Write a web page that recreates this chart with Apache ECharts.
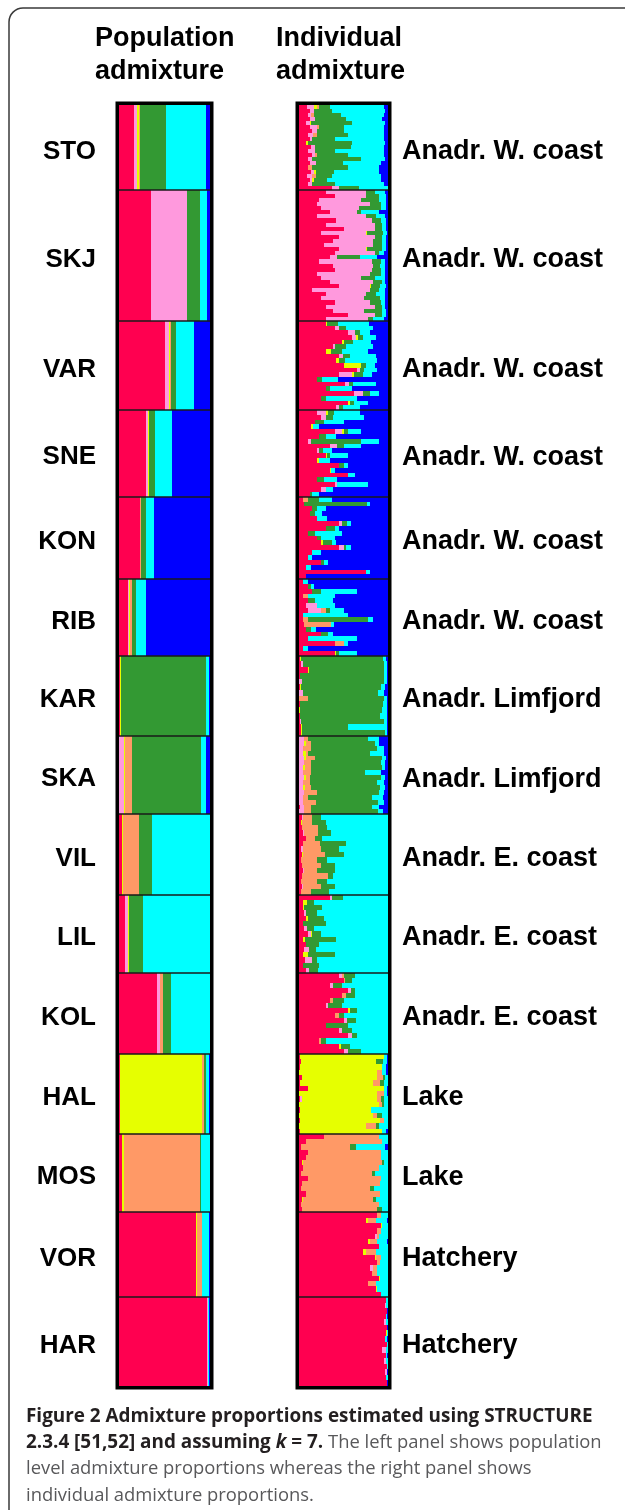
<!DOCTYPE html>
<html><head><meta charset="utf-8">
<script src="https://cdn.jsdelivr.net/npm/echarts@6/dist/echarts.min.js"></script>
<style>html,body{margin:0;padding:0;background:#fff}#c{width:625px;height:1510px}</style>
</head><body><div id="c"></div><script>
// ---- data ----
const clusterKeys = ['r', 'p', 'y', 'o', 'g', 'c', 'b'];
const clusterColors = ['#FF0050', '#FF99DD', '#E6FF00', '#FF9966', '#339933', '#00FFFF', '#0000FF'];
const populations = ['STO', 'SKJ', 'VAR', 'SNE', 'KON', 'RIB', 'KAR', 'SKA', 'VIL', 'LIL', 'KOL', 'HAL', 'MOS', 'VOR', 'HAR'];
const regions = ['Anadr. W. coast', 'Anadr. W. coast', 'Anadr. W. coast', 'Anadr. W. coast', 'Anadr. W. coast', 'Anadr. W. coast',
  'Anadr. Limfjord', 'Anadr. Limfjord', 'Anadr. E. coast', 'Anadr. E. coast', 'Anadr. E. coast', 'Lake', 'Lake', 'Hatchery', 'Hatchery'];
const sampleSizes = [40, 62, 42, 41, 39, 36, 38, 37, 38, 37, 38, 38, 37, 40, 42];
// population-level proportions (%), order: red, pink, yellow, orange, green, cyan, blue
const popQ = [
  [16.3, 4.0, 1.5, 1.5, 27.8, 44.1, 4.8],
  [35.2, 40.0, 0, 0, 13.3, 7.8, 3.7],
  [50.7, 4.4, 1.1, 0.5, 6.3, 19.3, 17.7],
  [29.6, 1.9, 1.5, 0, 6.7, 18.9, 41.4],
  [23.0, 0, 0.5, 0.6, 5.6, 8.9, 61.4],
  [9.6, 1.5, 1.1, 2.6, 4.4, 10.0, 70.8],
  [1.1, 0, 0.7, 0, 93.4, 4.1, 0.7],
  [0.5, 5.2, 0.7, 8.2, 75.6, 5.6, 4.2],
  [3.7, 0, 1.0, 17.8, 13.3, 64.2, 0],
  [6.7, 3.0, 1.5, 0, 15.2, 73.6, 0],
  [41.9, 3.3, 0, 3.3, 8.9, 42.6, 0],
  [1.1, 0, 89.6, 2.6, 1.9, 4.1, 0.7],
  [3.7, 0, 1.5, 83.7, 0.7, 10.4, 0],
  [84.1, 0, 1.5, 5.2, 0, 8.5, 0.7],
  [97.0, 0.7, 0, 0, 0, 1.1, 1.2]
];
// individual-level proportions (%), one string per individual group
const indSTO = ['r9 y3 o3 p8 g12 c60 b5', 'r12 p5 g20 c60 b3', 'r10 p3 o4 g30 c48 b5', 'r12 p6 g35 c40 b7', 'r8 p4 y2 g45 c38 b3',
  'r12 p8 o3 g28 c45 b4', 'r15 p5 g30 c45 b5', 'r10 p6 o4 g35 c40 b5', 'r12 p3 g25 c55 b5', 'r8 y2 g50 c37 b3', 'r13 p5 g40 c37 b5',
  'r10 p8 g22 c55 b5', 'r15 p3 o2 g35 c40 b5', 'r10 p5 g55 c27 b3', 'r12 p7 g30 c43 b8', 'r10 o5 g40 c35 b10', 'r13 p4 y2 g20 c51 b10',
  'r9 p6 o4 g18 c55 b8', 'r12 p3 y2 g15 c60 b8', 'r10 p5 g25 c55 b5', 'r37 p8 g22 c33'];
const indSKJ = ['r30 p45 g10 c12 b3', 'r40 p35 g15 c8 b2', 'r22 p48 g20 c8 b2', 'r20 p60 g12 c6 b2', 'r25 p42 g25 c6 b2', 'r35 p30 g5 c20 b10',
  'r20 p55 g12 c10 b3', 'r42 p40 g10 c6 b2', 'r30 p55 g8 c5 b2', 'r50 p35 g8 c5 b2', 'r25 p50 y1 g18 c5 b1', 'r45 p40 g8 c5 b2',
  'r38 p45 g10 c5 b2', 'r28 p55 g10 c5 b2', 'r45 p30 y1 g17 c5 b2', 'r40 p45 g5 c6 b4', 'r35 p8 g25 c20 b12', 'r22 p60 g10 c5 b3',
  'r38 p45 g8 c6 b3', 'r40 p42 g10 c5 b3', 'r20 p60 g12 c5 b3', 'r25 p45 g15 c12 b3', 'r35 p48 g10 c4 b3', 'r45 p35 y1 g10 c7 b2',
  'r15 p65 g10 c7 b3', 'r30 p45 g12 c10 b3', 'r25 p48 g18 c6 b3', 'r40 p40 g12 c5 b3', 'r30 p55 g8 c4 b3', 'r38 p35 g20 c5 b2',
  'r55 p30 g8 c5 b2', 'r30 p48 g5 c12 b5'];
const indVAR = ['r30 y2 g12 c35 b21', 'r40 p5 g8 c30 b17', 'r55 p8 g5 c12 b20', 'r60 p4 y2 g6 c15 b13', 'r48 y3 g10 c20 b19',
  'r38 p3 g12 c30 b17', 'r30 y6 g12 c30 b22', 'r45 p4 g8 c30 b13', 'r42 y3 g7 c36 b12', 'r50 y20 g5 c10 b15', 'r65 p3 g5 c15 b12',
  'r45 p15 y2 g10 c10 b18', 'r20 g6 c18 b56', 'r52 p4 g5 c25 b14', 'r30 g5 c25 b40', 'r62 p10 g8 c10 b10', 'r25 g5 c35 b35',
  'r55 y2 g5 c15 b23', 'r42 p3 g4 c20 b31'];
const indSNE = ['r20 p10 y3 g6 c30 b31', 'r25 p5 g8 c35 b27', 'r18 g10 c22 b50', 'r14 y2 c6 b78', 'r40 p8 y2 g5 c15 b30',
  'r22 g8 c12 b58', 'r10 p3 g57 c20 b10', 'r35 p8 g7 c20 b30', 'r20 p3 g4 c10 b63', 'r30 y2 g3 c20 b45', 'r20 y2 c13 b65',
  'r45 g5 c5 b45', 'r35 y1 c5 b59', 'r55 c8 b37', 'r20 g8 c15 b57', 'r40 p3 c35 b22', 'r25 p5 c8 b62', 'r12 g3 c8 b77'];
const indKON = ['r5 o5 g12 c15 b63', 'r6 g70 c4 b20', 'r15 g5 c10 b70', 'r12 g6 c8 b74', 'r20 c12 b68', 'r45 p3 g6 c4 b42',
  'r30 g10 c5 b55', 'r10 g8 c30 b52', 'r20 g5 c15 b60', 'r25 y2 g10 c5 b58', 'r45 p5 g3 c5 b42', 'r15 c10 b75', 'r10 c5 b85',
  'r25 g3 c5 b67', 'r8 c5 b87', 'r75 c5 b20', 'r8 b92'];
const indRIB = ['r5 c5 b90', 'r10 g3 c4 b83', 'r15 g10 c40 b35', 'r5 o5 c30 b60', 'r10 g8 c20 b62', 'r8 p12 c20 b60',
  'r10 p15 o5 g5 c15 b50', 'r5 c50 b45', 'r5 o5 g68 c5 b17', 'r6 o30 c3 b61', 'r8 g6 c5 b81', 'r25 g8 c5 b62', 'r10 c55 b35',
  'r40 o10 c5 b45', 'r5 c5 b90', 'r40 y2 g3 c20 b35'];
const indKAR = ['r1 y1 g92 c4 b2', 'r2 p3 g90 c4 b1', 'r10 y1 g85 c3 b1', 'r1 g95 c3 b1', 'p3 g92 c4 b1', 'r1 y1 g90 c5 b3',
  'p4 g85 c6 b5', 'o10 g86 c3 b1', 'r1 g93 c5 b1', 'y1 g92 c6 b1', 'r1 g90 c8 b1', 'r1 p1 g94 c3 b1', 'r2 y1 g52 c44 b1',
  'r2 y1 g94 c2 b1'];
const indSKA = ['p6 o4 g68 c12 b10', 'p6 y2 o5 g72 c5 b10', 'p5 o8 g75 c8 b4', 'p5 y3 o2 g70 c15 b5', 'p6 y2 o10 g75 c5 b2',
  'p6 o8 g78 c5 b3', 'p5 y2 o6 g80 c4 b3', 'p4 o10 g60 c18 b8', 'p6 y2 o4 g80 c5 b3', 'p5 o7 g76 c8 b4', 'p5 y2 o6 g78 c6 b3',
  'p6 o14 g70 c6 b4', 'p5 o5 g72 c12 b6', 'p5 o14 g70 c6 b5', 'r1 p5 o8 g68 c8 b10', 'p6 o8 g75 c5 b6'];
const indVIL = ['r3 p2 o10 g10 c75', 'r2 y1 o12 g15 c70', 'r3 o18 g10 c69', 'r4 p2 o15 g15 c64', 'r8 o10 g8 c74', 'r4 o20 g29 c47',
  'r2 p3 o20 g20 c55', 'r3 y1 o25 g21 c50', 'r2 o18 g12 c68', 'r3 o22 g15 c60', 'r4 p2 o14 g20 c60', 'r3 o30 g5 c62',
  'r2 o18 g12 c68', 'r3 p2 o20 g15 c60', 'r2 o12 g20 c66'];
const indLIL = ['r35 p2 g12 c51', 'r5 y4 g8 c83', 'r4 y2 g20 c74', 'r6 p2 g12 c80', 'r8 y2 g18 c72', 'r5 g25 c70', 'r6 p3 g8 c83',
  'r10 p3 y2 g10 c75', 'r5 y2 g35 c58', 'r8 g15 c77', 'r6 p5 g8 c81', 'r5 y5 g30 c60', 'r7 p8 g5 c80', 'r5 g18 c77', 'r8 p3 g10 c79'];
const indKOL = ['r45 p3 o3 g12 c37', 'r50 o2 g8 c40', 'r35 p3 g10 c52', 'r55 p3 g5 c37', 'r48 o5 g10 c37', 'r35 o3 g12 c50',
  'r30 p3 g15 c52', 'r55 y2 g8 c35', 'r40 o5 g5 c50', 'r50 p4 g10 c36', 'r30 g25 c45', 'r45 p3 g12 c40', 'r55 p5 g5 c35',
  'r22 o3 g5 c70', 'r45 y2 g10 c43', 'r50 p5 g15 c30'];
const indHAL = ['r1 y95 c3 b1', 'r2 y85 g7 c5 b1', 'r1 y92 c5 b2', 'y88 o5 c5 b2', 'r3 y85 o6 g3 c3', 'r1 y82 o8 g5 c4',
  'r10 y85 c4 b1', 'y88 o8 c3 b1', 'r1 p2 y85 o4 g3 c5', 'y90 o3 g3 c4', 'r1 y80 c19', 'y83 o5 g5 c7', 'r1 y90 o4 c5',
  'y75 o12 g3 c10', 'r1 y92 c5 b2'];
const indMOS = ['r28 o62 c10', 'r8 o85 c7', 'r2 o55 g7 c33 b3', 'r10 o82 c8', 'r8 o84 c8', 'r3 y2 o88 g2 c5', 'r5 o85 c10',
  'r2 o80 g3 c15', 'r10 o82 c8', 'r3 o88 c9', 'r2 o78 g4 c16', 'r8 o83 c9', 'r3 y2 o78 g3 c14', 'r2 o88 c10', 'r3 o85 g5 c7'];
const indVOR = ['r88 o4 c8', 'r75 y2 o10 c12 b1', 'r92 y1 c7', 'r88 o4 c8', 'r85 p3 o2 c10', 'r78 y2 o8 c11 b1', 'r90 c10',
  'r72 y3 o12 c13', 'r85 y2 o5 c8', 'r88 o3 c9', 'r80 p3 o5 c12', 'r82 o6 c12', 'r90 y1 c9', 'r78 o8 c14', 'r86 y2 c12', 'r92 c8'];
const indHAR = ['r98 c2', 'r97 p1 c2', 'r99 b1', 'r98 c1 b1', 'r96 p2 c2', 'r99 b1', 'r98 y1 c1', 'r97 c2 b1', 'r99 c1',
  'r93 p5 c2', 'r98 c1 b1', 'r96 p2 c2', 'r99 c1', 'r97 p2 b1', 'r98 c2', 'r99 b1'];
const individuals = [indSTO, indSKJ, indVAR, indSNE, indKON, indRIB, indKAR, indSKA, indVIL, indLIL, indKOL, indHAL, indMOS, indVOR, indHAR];

// ---- build ----
function parseRow(s) {
  const q = [0, 0, 0, 0, 0, 0, 0];
  s.replace(/([rpyogcb])(\d+(?:\.\d+)?)/g, (m, k, v) => { q[clusterKeys.indexOf(k)] += parseFloat(v); return m; });
  const t = q.reduce((a, b) => a + b, 0);
  return q.map(v => v / t * 100);
}
const total = sampleSizes.reduce((a, b) => a + b, 0);
const popData = [], indData = [], bounds = [], labelData = [];
let acc = 0;
populations.forEach((p, i) => {
  const s = acc, e = acc + sampleSizes[i];
  popData.push([s, e].concat(popQ[i]));
  const rows = individuals[i];
  rows.forEach((r, j) => {
    const rs = s + (e - s) * j / rows.length, re = s + (e - s) * (j + 1) / rows.length;
    indData.push([rs, re].concat(parseRow(r)));
  });
  if (i > 0) bounds.push([s]);
  labelData.push([(s + e) / 2, p, regions[i]]);
  acc = e;
});

function stackItem(params, api) {
  const s = api.value(0), e = api.value(1);
  const y0 = Math.round(api.coord([0, s])[1]), y1 = Math.round(api.coord([0, e])[1]);
  const children = [];
  let cum = 0;
  for (let k = 0; k < 7; k++) {
    const v = api.value(2 + k);
    if (v <= 0) continue;
    const x0 = Math.round(api.coord([cum, s])[0]);
    cum += v;
    const x1 = Math.round(api.coord([cum, s])[0]);
    if (x1 > x0) children.push({ type: 'rect', shape: { x: x0, y: y0, width: x1 - x0, height: y1 - y0 }, style: { fill: clusterColors[k] } });
  }
  return { type: 'group', children };
}
function sepItem(params, api) {
  const a = api.coord([0, api.value(0)]), b = api.coord([100, api.value(0)]);
  const y = Math.round(a[1]);
  return { type: 'line', shape: { x1: a[0], y1: y, x2: b[0], y2: y }, style: { stroke: '#1a1a1a', lineWidth: 1.3 }, z2: 10 };
}
const labelFont = 'bold 27px "Liberation Sans", Arial, sans-serif';
const leftFont = 'bold 26px "Liberation Sans", Arial, sans-serif';
function leftLabel(params, api) {
  const pt = api.coord([0, api.value(0)]);
  return { type: 'text', style: { text: populations[params.dataIndex], x: pt[0] - 23, y: pt[1] + 4, font: leftFont, fill: '#000', align: 'right', verticalAlign: 'middle' } };
}
function rightLabel(params, api) {
  const pt = api.coord([100, api.value(0)]);
  return { type: 'text', style: { text: regions[params.dataIndex], x: pt[0] + 14, y: pt[1] + 4, font: labelFont, fill: '#000', align: 'left', verticalAlign: 'middle' } };
}

const gridBase = { top: 105, height: 1281, show: true, borderColor: '#000', borderWidth: 7, backgroundColor: 'transparent' };
const chart = echarts.init(document.getElementById('c'), null, { renderer: 'canvas' });
chart.setOption({
  animation: false,
  backgroundColor: '#fff',
  grid: [Object.assign({ left: 119, width: 91 }, gridBase), Object.assign({ left: 299, width: 89 }, gridBase)],
  xAxis: [0, 1].map(i => ({ type: 'value', gridIndex: i, min: 0, max: 100, show: false })),
  yAxis: [0, 1].map(i => ({ type: 'value', gridIndex: i, min: 0, max: total, inverse: true, show: false })),
  series: [
    { type: 'custom', xAxisIndex: 0, yAxisIndex: 0, data: popData, renderItem: stackItem, silent: true },
    { type: 'custom', xAxisIndex: 1, yAxisIndex: 1, data: indData, renderItem: stackItem, silent: true },
    { type: 'custom', xAxisIndex: 0, yAxisIndex: 0, data: bounds, renderItem: sepItem, silent: true, z: 5 },
    { type: 'custom', xAxisIndex: 1, yAxisIndex: 1, data: bounds, renderItem: sepItem, silent: true, z: 5 },
    { type: 'custom', xAxisIndex: 0, yAxisIndex: 0, data: labelData, renderItem: leftLabel, silent: true },
    { type: 'custom', xAxisIndex: 1, yAxisIndex: 1, data: labelData, renderItem: rightLabel, silent: true }
  ],
  graphic: [
    { type: 'rect', silent: true, shape: { x: 9, y: 8, width: 700, height: 1600, r: [14, 0, 0, 0] }, style: { fill: 'none', stroke: '#3a3a3a', lineWidth: 1.5 } },
    { type: 'text', silent: true, style: { text: 'Population\nadmixture', x: 95, y: 22, font: labelFont, lineHeight: 33, fill: '#000', textAlign: 'left', textVerticalAlign: 'top' } },
    { type: 'text', silent: true, style: { text: 'Individual\nadmixture', x: 276, y: 22, font: labelFont, lineHeight: 33, fill: '#000', textAlign: 'left', textVerticalAlign: 'top' } },
    { type: 'text', silent: true, style: {
        x: 26, y: 1403, textAlign: 'left', textVerticalAlign: 'top',
        text: '{b|Figure 2 Admixture proportions estimated using STRUCTURE}\n{b|2.3.4 [51,52] and assuming }{bi|k}{b| = 7.}{n| The left panel shows population}\n{n|level admixture proportions whereas the right panel shows}\n{n|individual admixture proportions.}',
        rich: {
          b: { fontFamily: '"Open Sans", sans-serif', fontWeight: 'bold', fontSize: 18.9, lineHeight: 26.5, fill: '#231f20' },
          bi: { fontFamily: '"Open Sans", sans-serif', fontWeight: 'bold', fontStyle: 'italic', fontSize: 18.9, lineHeight: 26.5, fill: '#231f20' },
          n: { fontFamily: '"Open Sans", sans-serif', fontSize: 18.4, lineHeight: 26.5, fill: '#58585a' }
        } } }
  ]
});
</script></body></html>
